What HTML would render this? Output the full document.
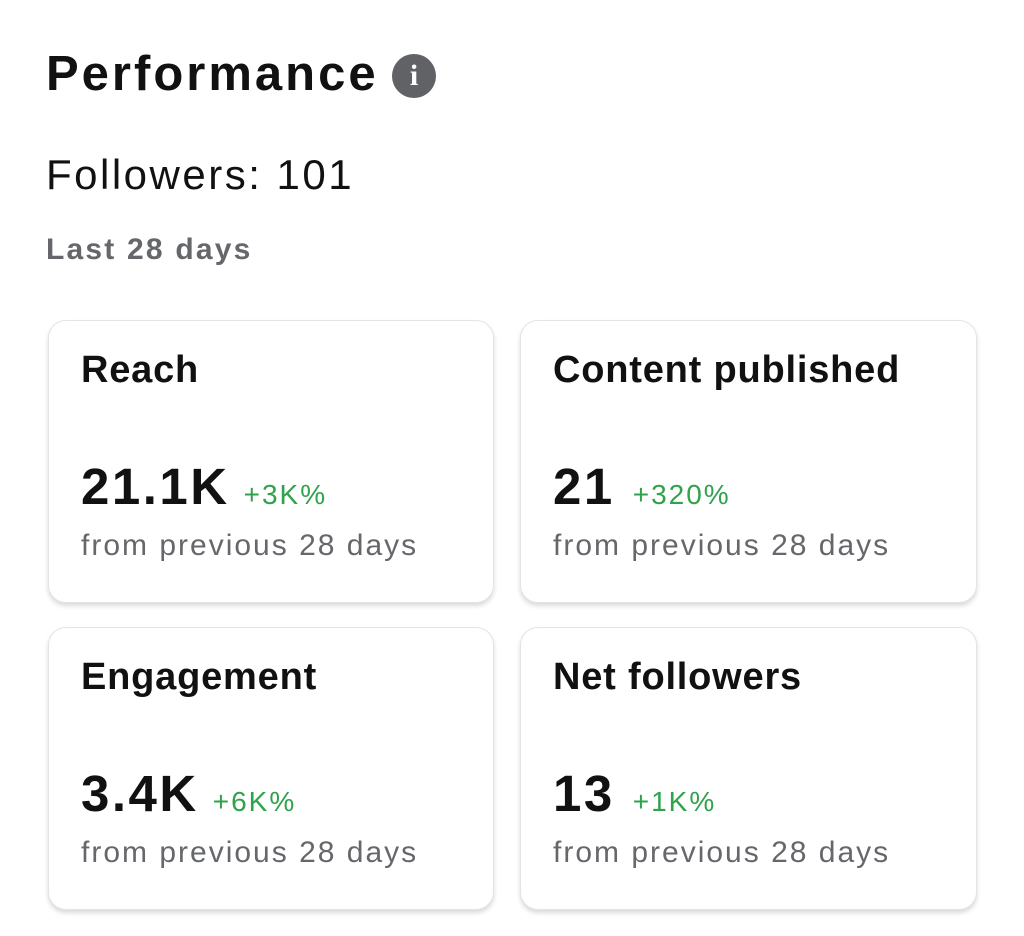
<!DOCTYPE html>
<html><head><style>
body{margin:0;width:1024px;height:936px;background:#fff;font-family:"Liberation Sans",Arial,sans-serif;position:relative;overflow:hidden}
.a{position:absolute;white-space:nowrap}
.card{position:absolute;background:#fff;border-radius:18px;border:1px solid #e4e4e8;box-shadow:0 3px 5px rgba(0,0,0,0.15)}
.t{position:absolute;left:32px;top:28px;font-size:38px;font-weight:bold;color:#111;letter-spacing:0.8px}
.n{position:absolute;left:32px;top:136px;font-size:51px;font-weight:bold;color:#111;letter-spacing:2.5px}
.n span{font-size:28px;font-weight:normal;color:#31a24c;margin-left:14px;letter-spacing:2px}
.f{position:absolute;left:32px;top:208px;font-size:30px;color:#65676b;letter-spacing:2px}
</style></head><body>
<div class="a" style="left:46px;top:46px;font-size:49px;font-weight:bold;color:#111;letter-spacing:3px">Performance</div>
<div class="a" style="left:392px;top:54px;width:44px;height:44px;border-radius:50%;background:#606266;color:#fff;font-weight:bold;font-size:30px;text-align:center;line-height:44px;font-family:'Liberation Serif',serif">i</div>
<div class="a" style="left:46px;top:151px;font-size:42px;color:#111;letter-spacing:2.5px">Followers: 101</div>
<div class="a" style="left:46px;top:233px;font-size:30px;color:#65676b;font-weight:bold;letter-spacing:2.2px">Last 28 days</div>

<div class="card" style="left:48px;top:320px;width:444px;height:281px">
<div class="t">Reach</div><div class="n">21.1K<span>+3K%</span></div><div class="f">from previous 28 days</div></div>
<div class="card" style="left:520px;top:320px;width:455px;height:281px">
<div class="t">Content published</div><div class="n">21<span style="margin-left:18px">+320%</span></div><div class="f">from previous 28 days</div></div>
<div class="card" style="left:48px;top:627px;width:444px;height:281px">
<div class="t">Engagement</div><div class="n">3.4K<span>+6K%</span></div><div class="f">from previous 28 days</div></div>
<div class="card" style="left:520px;top:627px;width:455px;height:281px">
<div class="t">Net followers</div><div class="n">13<span style="margin-left:18px">+1K%</span></div><div class="f">from previous 28 days</div></div>
</body></html>
